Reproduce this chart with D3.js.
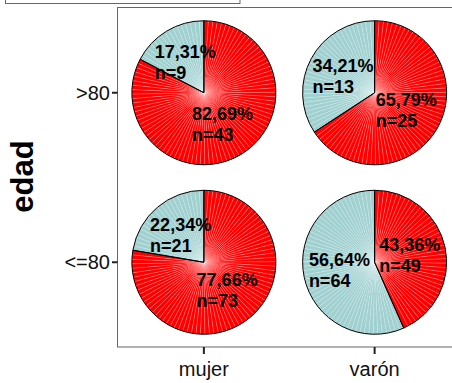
<!DOCTYPE html>
<html>
<head>
<meta charset="utf-8">
<script src="https://cdn.jsdelivr.net/npm/d3@7"></script>
<style>
  html, body { margin: 0; padding: 0; background: #fff; }
  svg { display: block; }
</style>
</head>
<body>
<script>
// ---- data ----
const sexoCats = ["mujer", "varón"];
const edadCats = [">80", "<=80"];
const cellSexo = ["mujer", "varón", "mujer", "varón"];
const cellEdad = [">80", ">80", "<=80", "<=80"];
const nRed  = [43, 25, 73, 49];
const nBlue = [9, 13, 21, 64];
const pctRed  = [82.69, 65.79, 77.66, 43.36];
const pctBlue = [17.31, 34.21, 22.34, 56.64];
const yTitle = "edad";

// ---- layout ----
const W = 452, H = 383;
const panel = { left: 117.5, right: 462, top: 7.5, bottom: 347 };
const colRed = "#FF0000", colBlue = "#A0D0D0";
const svg = d3.select("body").append("svg").attr("width", W).attr("height", H);

const x = d3.scalePoint().domain(sexoCats).range([panel.left + 1, 460]).padding(0.5);
const y = d3.scalePoint().domain(edadCats).range([panel.top + 0.5, panel.bottom]).padding(0.5);
const R = 72;

// legend box (cut off at top)
svg.append("rect").attr("x", 5.5).attr("y", -20).attr("width", 234.5).attr("height", 23.5)
  .attr("fill", "#fff").attr("stroke", "#666").attr("stroke-width", 1);

// panel
svg.append("rect").attr("x", panel.left).attr("y", panel.top)
  .attr("width", panel.right - panel.left).attr("height", panel.bottom - panel.top)
  .attr("fill", "#fff").attr("stroke", "#666").attr("stroke-width", 1);

const pie = d3.pie().sort(null).value(d => d.v);
const arc = d3.arc().innerRadius(0).outerRadius(R);
const fmt = v => d3.format(".2f")(v).replace(".", ",") + "%";

cellSexo.forEach((s, i) => {
  const cx = x(s), cy = y(cellEdad[i]);
  const g = svg.append("g").attr("transform", `translate(${cx},${cy})`);
  const slices = pie([
    { v: pctRed[i], c: colRed, n: nRed[i], p: pctRed[i] },
    { v: pctBlue[i], c: colBlue, n: nBlue[i], p: pctBlue[i] }
  ]);
  // sub-wedges for the fine radial texture
  slices.forEach(sl => {
    const span = sl.endAngle - sl.startAngle;
    const k = Math.max(1, Math.round(span / (Math.PI * 2 / 100)));
    const subs = d3.range(k).map(j => ({
      startAngle: sl.startAngle + span * j / k,
      endAngle: sl.startAngle + span * (j + 1) / k
    }));
    g.selectAll(null).data(subs).enter().append("path")
      .attr("d", arc).attr("fill", sl.data.c)
      .attr("stroke", "rgba(255,255,255,0.28)").attr("stroke-width", 0.6);
  });
  // slice outlines
  g.selectAll(null).data(slices).enter().append("path")
    .attr("d", arc).attr("fill", "none").attr("stroke", "#000").attr("stroke-width", 1);
  // labels
  slices.forEach(sl => {
    const [lx, ly] = arc.centroid(sl);
    const t = g.append("text").attr("font-family", "Liberation Sans, Arial, sans-serif")
      .attr("font-weight", "bold").attr("font-size", 18).attr("fill", "#000");
    const t1 = t.append("tspan").attr("y", ly - 4).text(fmt(sl.data.p));
    const w = t1.node().getComputedTextLength();
    t1.attr("x", lx - w / 2);
    t.append("tspan").attr("x", lx - w / 2).attr("y", ly + 17.5).text("n=" + sl.data.n);
  });
});

// axes ticks
const tickCol = "#222";
svg.selectAll(null).data(sexoCats).enter().append("line")
  .attr("x1", d => x(d)).attr("x2", d => x(d)).attr("y1", panel.bottom).attr("y2", panel.bottom + 7)
  .attr("stroke", tickCol).attr("stroke-width", 2);
svg.selectAll(null).data(edadCats).enter().append("line")
  .attr("x1", panel.left - 5.5).attr("x2", panel.left).attr("y1", d => y(d)).attr("y2", d => y(d))
  .attr("stroke", tickCol).attr("stroke-width", 2);

svg.selectAll(null).data(sexoCats).enter().append("text")
  .attr("x", d => x(d)).attr("y", 376).attr("text-anchor", "middle")
  .attr("font-family", "Liberation Sans, Arial, sans-serif").attr("font-size", 20).attr("fill", "#111")
  .text(d => d);
svg.selectAll(null).data(edadCats).enter().append("text")
  .attr("x", 110).attr("y", d => y(d)).attr("dy", "0.36em").attr("text-anchor", "end")
  .attr("font-family", "Liberation Sans, Arial, sans-serif").attr("font-size", 20).attr("fill", "#111")
  .text(d => d);

svg.append("text").attr("transform", "translate(33,176.5) rotate(-90)")
  .attr("text-anchor", "middle").attr("font-family", "Liberation Sans, Arial, sans-serif")
  .attr("font-weight", "bold").attr("font-size", 31).attr("fill", "#000").text(yTitle);
</script>
</body>
</html>
